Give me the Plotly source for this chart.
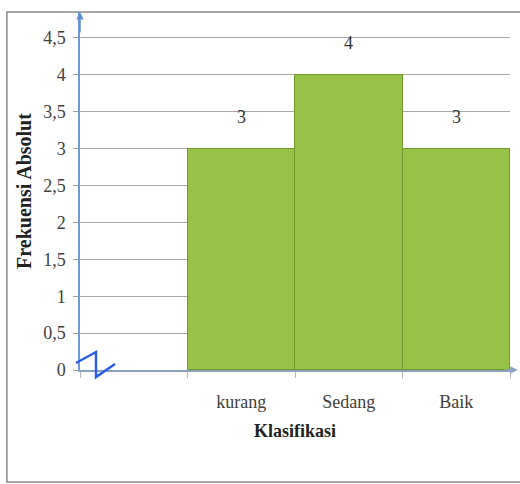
import plotly.graph_objects as go

categories = [" ", "kurang", "Sedang", "Baik"]
values = [None, 3, 4, 3]
y_tickvals = [0, 0.5, 1, 1.5, 2, 2.5, 3, 3.5, 4, 4.5]
y_ticktext = ["0", "0,5", "1", "1,5", "2", "2,5", "3", "3,5", "4", "4,5"]

serif = "Liberation Serif"

fig = go.Figure()
fig.add_trace(go.Bar(
    x=categories, y=values,
    marker=dict(color="#97c147", line=dict(color="#6f9a2e", width=1)),
    width=1.0,
    hoverinfo="skip",
))

annotations = []
for c, v in zip(categories, values):
    if v is None:
        continue
    annotations.append(dict(
        x=c, y=v, xref="x", yref="y", text=str(v), showarrow=False,
        yanchor="bottom", yshift=20,
        font=dict(family=serif, size=18, color="#333333"),
    ))

# axis arrows
annotations.append(dict(x=0, y=1, xref="paper", yref="paper", ax=0, ay=22,
                        showarrow=True, arrowhead=2, arrowsize=1, arrowwidth=1.5,
                        arrowcolor="#5f8fd0", text=""))
annotations.append(dict(x=1.018, y=0, xref="paper", yref="paper", ax=-14, ay=0,
                        showarrow=True, arrowhead=2, arrowsize=1, arrowwidth=1.5,
                        arrowcolor="#8ea3c4", text=""))

shapes = [
    dict(type="rect", xref="paper", yref="paper", x0=-0.170, x1=1.05, y0=-0.313, y1=1.0,
         line=dict(color="#8a8a8a", width=1.5), layer="below"),
    dict(type="path", xref="paper", yref="paper",
         path="M -0.0093 0.0196 L 0.0372 0.0503 L 0.0372 -0.0196 L 0.0814 0.0168",
         line=dict(color="#2b5de8", width=2.5)),
]

fig.update_layout(
    width=520, height=484,
    margin=dict(l=80, r=10, t=12, b=114),
    paper_bgcolor="white", plot_bgcolor="white",
    bargap=0, showlegend=False,
    separators=",.",
    font=dict(family=serif),
    annotations=annotations, shapes=shapes,
    xaxis=dict(
        type="category", range=[-0.5, 3.5],
        showline=True, linecolor="#8ea0b8", linewidth=2,
        ticks="outside", tickson="boundaries", ticklen=6, tickcolor="#b0b8c4",
        tickfont=dict(family=serif, size=18, color="#404040"),
        ticklabelstandoff=14,
        showgrid=False,
        title=dict(text="<b>Klasifikasi</b>", font=dict(family=serif, size=18, color="#222222"), standoff=14),
    ),
    yaxis=dict(
        range=[0, 4.85], tickvals=y_tickvals, ticktext=y_ticktext,
        showline=True, linecolor="#6f9ad6", linewidth=1.5,
        ticks="outside", ticklen=5, tickcolor="#a0a0a0",
        tickfont=dict(family=serif, size=18, color="#404040"),
        ticklabelstandoff=4,
        showgrid=True, gridcolor="#a8a8a8", gridwidth=1,
        zeroline=False,
        title=dict(text="<b>Frekuensi Absolut</b>", font=dict(family=serif, size=20, color="#222222"), standoff=6),
    ),
)

fig.write_html("out.html")
